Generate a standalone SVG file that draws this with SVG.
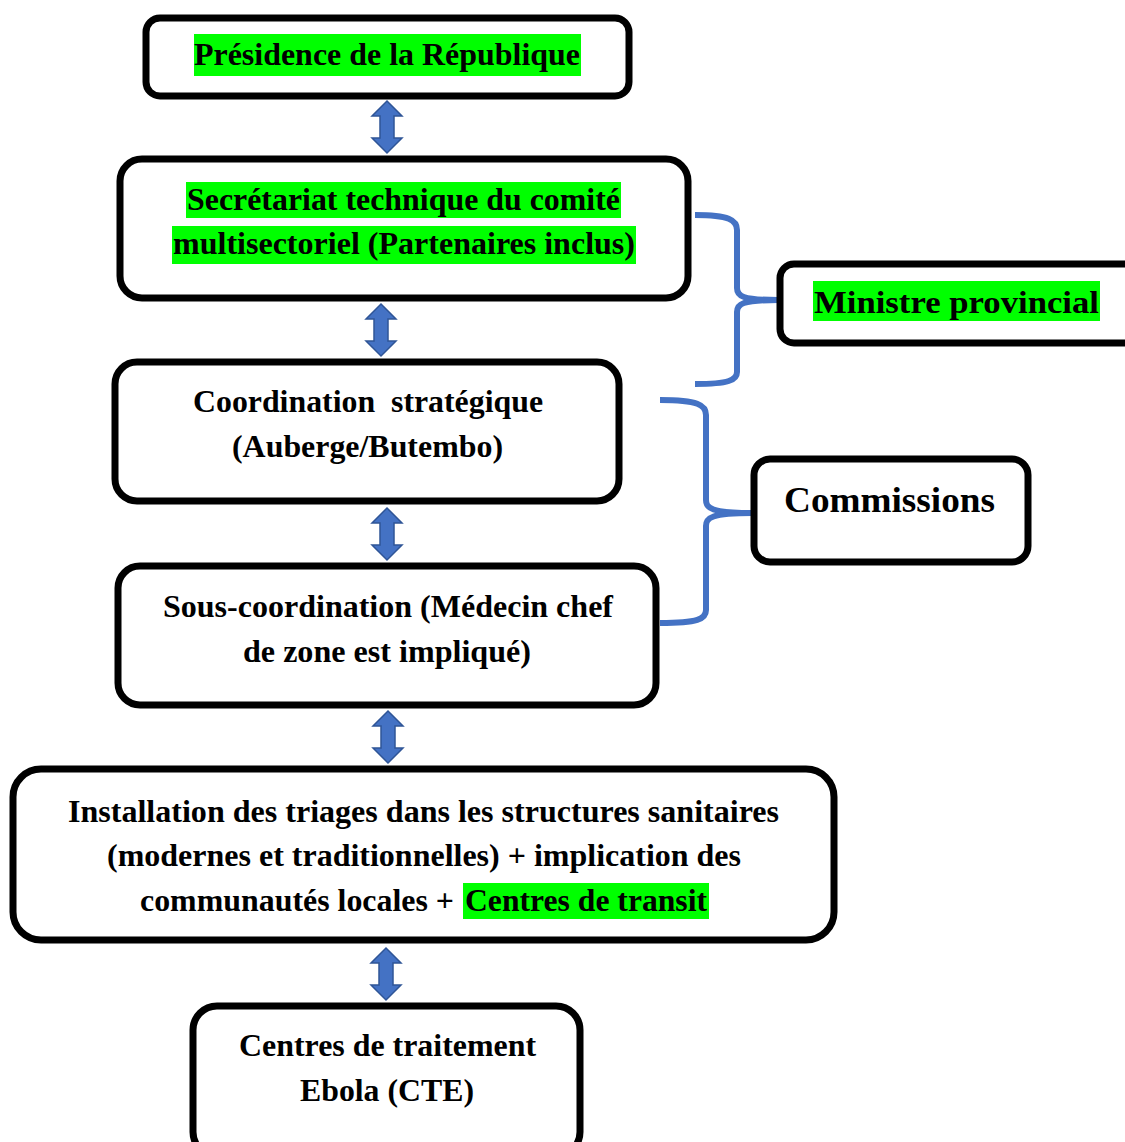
<svg xmlns="http://www.w3.org/2000/svg" width="1125" height="1142" viewBox="0 0 1125 1142">
<style>
.box{fill:#fff;stroke:#000;stroke-width:7}
.hl{fill:#00ff00}
.arr{fill:#4472c4;stroke:#2f5597;stroke-width:1.5}
.brace{fill:none;stroke:#4472c4;stroke-width:6;stroke-linecap:butt}
</style>
<defs>
<path id="dblarrow" d="M0,0 L15,15 L7,15 L7,37 L15,37 L0,52 L-15,37 L-7,37 L-7,15 L-15,15 Z"/>
</defs>
<rect width="1125" height="1142" fill="#fff"/>

<g id="connectors">
<use href="#dblarrow" class="arr" x="387" y="101"/>
<use href="#dblarrow" class="arr" x="381" y="304"/>
<use href="#dblarrow" class="arr" x="387" y="508"/>
<use href="#dblarrow" class="arr" x="388" y="711"/>
<use href="#dblarrow" class="arr" x="386" y="948"/>
<path class="brace" d="M695,215 C729,215 737,220 737,230 L737,288 C737,296 742,300 778,300 C742,300 737,304 737,312 L737,372 C737,380 729,384 695,384"/>
<path class="brace" d="M660,400 C698,400 706,405 706,415 L706,500 C706,508 711,513 752,513 C711,513 706,518 706,526 L706,610 C706,619 698,623 660,623"/>
</g>

<g id="nodes" font-family="Liberation Serif" font-weight="bold" font-size="32" fill="#000">
<g id="node-presidence">
<rect class="box" x="146" y="18" width="483" height="78" rx="14"/>
<rect class="hl" x="194" y="34" width="387" height="42"/>
<text x="194" y="65" textLength="386" lengthAdjust="spacingAndGlyphs">Présidence de la République</text>
</g>

<g id="node-secretariat">
<rect class="box" x="120" y="159" width="568" height="139" rx="22"/>
<rect class="hl" x="186" y="182" width="435" height="36"/>
<rect class="hl" x="172" y="226" width="464" height="38"/>
<text x="187" y="210" textLength="433" lengthAdjust="spacingAndGlyphs">Secrétariat technique du comité</text>
<text x="173" y="254" textLength="462" lengthAdjust="spacingAndGlyphs">multisectoriel (Partenaires inclus)</text>
</g>

<g id="node-ministre">
<rect class="box" x="780" y="264" width="360" height="79" rx="14"/>
<rect class="hl" x="813" y="281" width="287" height="40"/>
<text x="814" y="313" textLength="285" lengthAdjust="spacingAndGlyphs">Ministre provincial</text>
</g>

<g id="node-coordination">
<rect class="box" x="115" y="362" width="504" height="139" rx="22"/>
<text x="193" y="412" textLength="350" lengthAdjust="spacingAndGlyphs" xml:space="preserve">Coordination  stratégique</text>
<text x="232" y="457" textLength="271" lengthAdjust="spacingAndGlyphs">(Auberge/Butembo)</text>
</g>

<g id="node-commissions">
<rect class="box" x="754" y="459" width="274" height="103" rx="16"/>
<text x="784" y="512" font-size="36" textLength="211" lengthAdjust="spacingAndGlyphs">Commissions</text>
</g>

<g id="node-souscoordination">
<rect class="box" x="118" y="566" width="538" height="139" rx="22"/>
<text x="163" y="617" textLength="450" lengthAdjust="spacingAndGlyphs">Sous-coordination (Médecin chef</text>
<text x="243" y="662" textLength="288" lengthAdjust="spacingAndGlyphs">de zone est impliqué)</text>
</g>

<g id="node-installation">
<rect class="box" x="13" y="769" width="821" height="171" rx="28"/>
<text x="68" y="822" textLength="711" lengthAdjust="spacingAndGlyphs">Installation des triages dans les structures sanitaires</text>
<text x="107" y="866" textLength="634" lengthAdjust="spacingAndGlyphs">(modernes et traditionnelles) + implication des</text>
<rect class="hl" x="463" y="883" width="246" height="36"/>
<text x="140" y="911" textLength="314" lengthAdjust="spacingAndGlyphs">communautés locales +</text>
<text x="465" y="911" textLength="242" lengthAdjust="spacingAndGlyphs">Centres de transit</text>
</g>

<g id="node-cte">
<rect class="box" x="193" y="1006" width="387" height="150" rx="24"/>
<text x="239" y="1056" textLength="297" lengthAdjust="spacingAndGlyphs">Centres de traitement</text>
<text x="300" y="1101" textLength="174" lengthAdjust="spacingAndGlyphs">Ebola (CTE)</text>
</g>
</g>
</svg>
